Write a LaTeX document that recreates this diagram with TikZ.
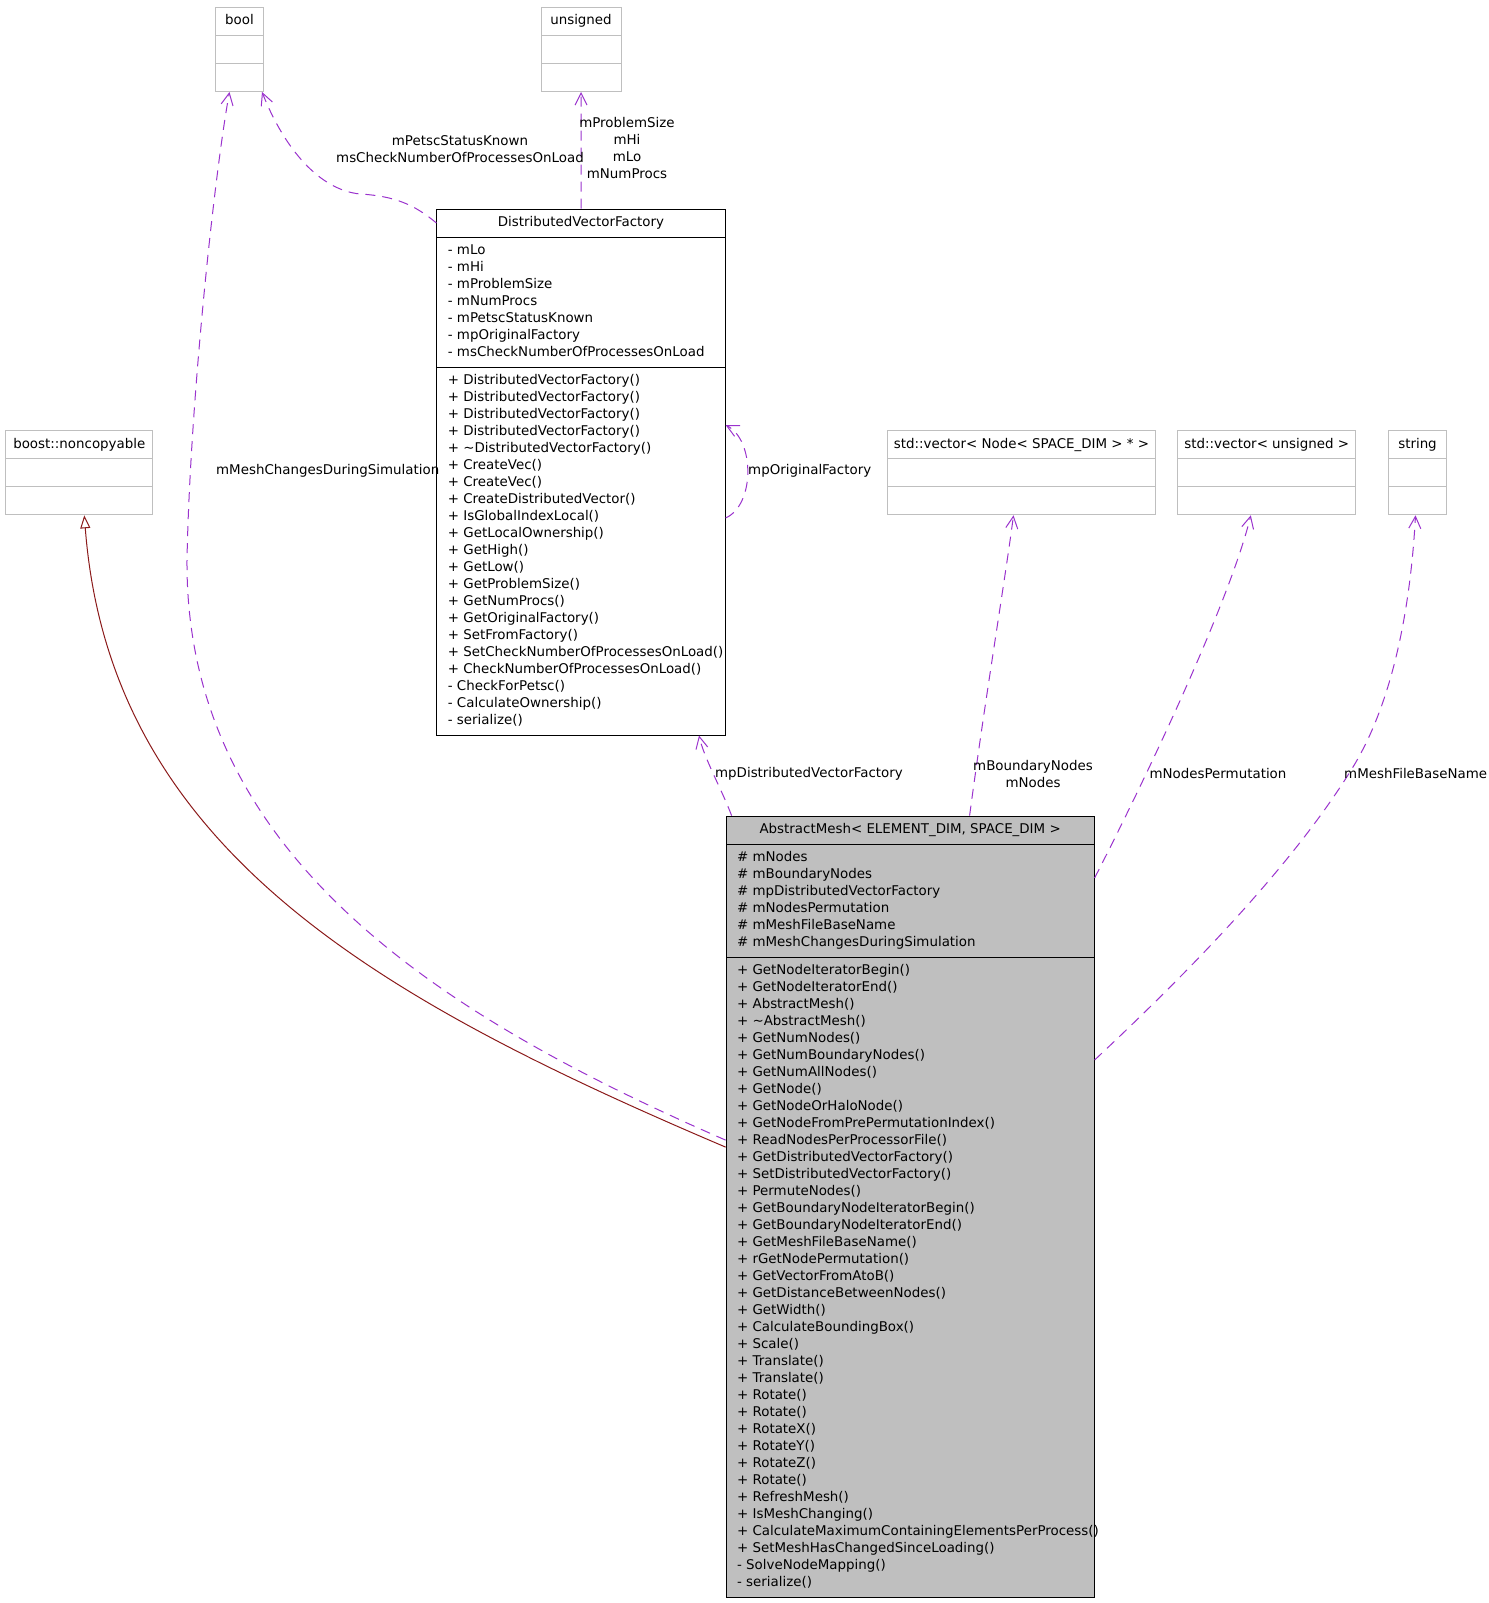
\documentclass[tikz,border=0pt]{standalone}
\usepackage{fontspec}
\setmainfont{DejaVu Sans}
\usetikzlibrary{shapes.multipart,arrows.meta}
\definecolor{extgray}{HTML}{BFBFBF}
\definecolor{usepurple}{HTML}{9A32CD}
\definecolor{inheritred}{HTML}{8B1A1A}
\newcommand{\umlfont}{\fontsize{13.4pt}{17pt}\selectfont}
\newcommand{\members}[1]{\begin{tabular}{@{}l@{}}#1\end{tabular}}
\newcommand{\nomembers}{\members{\hspace{1pt}}}
\begin{document}
\begin{tikzpicture}[x=1pt, y=-1pt,
  cls/.style={rectangle split, rectangle split parts=3,
    rectangle split part align={center,left,left},
    draw, line width=1pt, anchor=north west, font=\umlfont,
    inner xsep=11pt, inner ysep=5pt},
  extcls/.style={cls, draw=extgray, inner xsep=6pt},
  lbl/.style={font=\umlfont, inner sep=0pt, align=center},
  uses/.style={usepurple, line width=1pt, dash pattern=on 10pt off 7pt,
    -{Straight Barb[length=12pt,width=12pt]}},
  inherit/.style={inheritred, line width=1pt,
    -{Triangle[open,length=13pt,width=10pt]}}]
  \useasboundingbox (0,0) rectangle (1488,1603);

  % Used types
  \node[extcls, minimum width=48pt] (bool) at (215,7)
    {\members{bool}\nodepart{two}\nomembers\nodepart{three}\nomembers};
  \node[extcls, minimum width=80pt] (unsigned) at (540.5,7)
    {\members{unsigned}\nodepart{two}\nomembers\nodepart{three}\nomembers};
  \node[extcls, minimum width=147pt] (noncopy) at (5.3,430.3)
    {\members{boost::noncopyable}\nodepart{two}\nomembers\nodepart{three}\nomembers};
  \node[extcls, minimum width=268pt] (vnode) at (887,430.3)
    {\members{std::vector< Node< SPACE\_DIM > * >}\nodepart{two}\nomembers\nodepart{three}\nomembers};
  \node[extcls, minimum width=178pt] (vuns) at (1177.3,430.3)
    {\members{std::vector< unsigned >}\nodepart{two}\nomembers\nodepart{three}\nomembers};
  \node[extcls, minimum width=57.4pt] (str) at (1388.3,430.3)
    {\members{string}\nodepart{two}\nomembers\nodepart{three}\nomembers};

  % Factory class
  \node[cls, fill=white, minimum width=288.2pt] (dvf) at (436.4,208.5)
    {\members{DistributedVectorFactory}
    \nodepart{two}\members{- mLo\\- mHi\\- mProblemSize\\- mNumProcs\\- mPetscStatusKnown\\
      - mpOriginalFactory\\- msCheckNumberOfProcessesOnLoad}
    \nodepart{three}\members{+ DistributedVectorFactory()\\+ DistributedVectorFactory()\\
      + DistributedVectorFactory()\\+ DistributedVectorFactory()\\
      + \textasciitilde DistributedVectorFactory()\\+ CreateVec()\\+ CreateVec()\\
      + CreateDistributedVector()\\+ IsGlobalIndexLocal()\\+ GetLocalOwnership()\\
      + GetHigh()\\+ GetLow()\\+ GetProblemSize()\\+ GetNumProcs()\\
      + GetOriginalFactory()\\+ SetFromFactory()\\
      \rlap{+ SetCheckNumberOfProcessesOnLoad()}\\+ CheckNumberOfProcessesOnLoad()\\
      - CheckForPetsc()\\- CalculateOwnership()\\- serialize()}};

  % Mesh class
  \node[cls, fill=extgray, minimum width=368pt] (am) at (725.6,815.6)
    {\members{AbstractMesh< ELEMENT\_DIM, SPACE\_DIM >}
    \nodepart{two}\members{\# mNodes\\\# mBoundaryNodes\\\# mpDistributedVectorFactory\\
      \# mNodesPermutation\\\# mMeshFileBaseName\\\# mMeshChangesDuringSimulation}
    \nodepart{three}\members{+ GetNodeIteratorBegin()\\+ GetNodeIteratorEnd()\\
      + AbstractMesh()\\+ \textasciitilde AbstractMesh()\\+ GetNumNodes()\\
      + GetNumBoundaryNodes()\\+ GetNumAllNodes()\\+ GetNode()\\+ GetNodeOrHaloNode()\\
      + GetNodeFromPrePermutationIndex()\\+ ReadNodesPerProcessorFile()\\
      + GetDistributedVectorFactory()\\+ SetDistributedVectorFactory()\\+ PermuteNodes()\\
      + GetBoundaryNodeIteratorBegin()\\+ GetBoundaryNodeIteratorEnd()\\
      + GetMeshFileBaseName()\\+ rGetNodePermutation()\\+ GetVectorFromAtoB()\\
      + GetDistanceBetweenNodes()\\+ GetWidth()\\+ CalculateBoundingBox()\\+ Scale()\\
      + Translate()\\+ Translate()\\+ Rotate()\\+ Rotate()\\+ RotateX()\\+ RotateY()\\
      + RotateZ()\\+ Rotate()\\+ RefreshMesh()\\+ IsMeshChanging()\\
      \rlap{+ CalculateMaximumContainingElementsPerProcess()}\\
      + SetMeshHasChangedSinceLoading()\\- SolveNodeMapping()\\- serialize()}};

  % Inheritance
  \draw[inherit] ([yshift=59.5pt]am.west) .. controls (380,1000) and (110,850) .. ([xshift=5pt]noncopy.south);

  % Members
  \draw[uses] ([yshift=66.5pt]am.west) .. controls (450,1020) and (185,860) .. (187,560)
    .. controls (190,400) and (215,170) .. ([xshift=-10pt]bool.south);
  \draw[uses] ([yshift=-14.5pt]dvf.north west) .. controls (415,205) and (395,196) .. (360,194)
    .. controls (320,190) and (285,150) .. ([xshift=-2pt]bool.south east);
  \draw[uses] (dvf.north) -- (unsigned.south);
  \draw[uses] ([yshift=-46pt]dvf.east) .. controls (755,505) and (755,440) .. ([yshift=47pt]dvf.east);
  \draw[uses] ([xshift=6pt]am.north west) .. controls (722,790) and (704,758) .. ([xshift=-26.6pt]dvf.south east);
  \draw[uses] ([xshift=59.5pt]am.north) .. controls (985,700) and (1005,580) .. ([xshift=-8pt]vnode.south);
  \draw[uses] ([yshift=-62.4pt]am.north east) .. controls (1150,770) and (1230,600) .. ([xshift=-16pt]vuns.south);
  \draw[uses] ([yshift=-244.4pt]am.north east) .. controls (1180,980) and (1290,870) .. (1353,767)
    .. controls (1400,690) and (1412,580) .. ([xshift=-2pt]str.south);

  % Edge labels
  \node[lbl] (lpetsc) at (460,148.7) {mPetscStatusKnown\\msCheckNumberOfProcessesOnLoad};
  \node[lbl] (lprob) at (627,148.5) {mProblemSize\\mHi\\mLo\\mNumProcs};
  \node[lbl] (lchanges) at (327.7,471) {mMeshChangesDuringSimulation};
  \node[lbl] (lorig) at (809.7,470.7) {mpOriginalFactory};
  \node[lbl] (ldvf) at (809,773.3) {mpDistributedVectorFactory};
  \node[lbl] (lbound) at (1033,774) {mBoundaryNodes\\mNodes};
  \node[lbl] (lperm) at (1218,773.3) {mNodesPermutation};
  \node[lbl, anchor=west] (lfile) at (1344,773.3) {mMeshFileBaseName};
\end{tikzpicture}
\end{document}
